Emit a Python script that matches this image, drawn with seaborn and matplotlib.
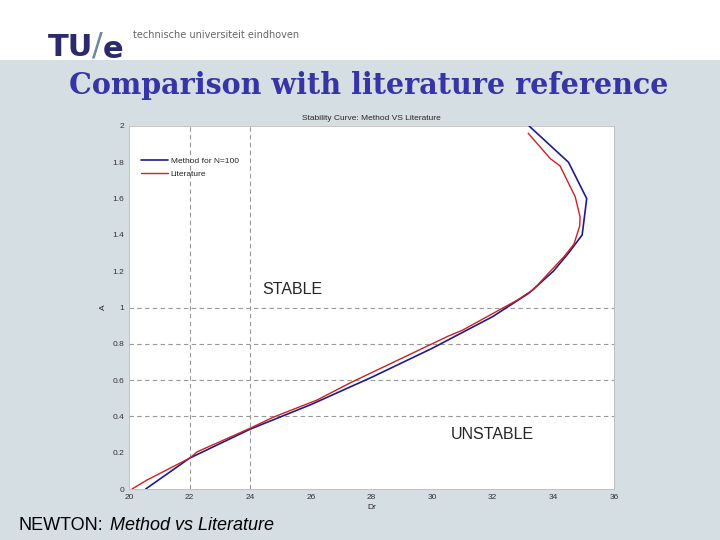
import matplotlib
matplotlib.use('Agg')
import matplotlib.pyplot as plt
import seaborn as sns
import pandas as pd
import numpy as np

# valeurs (Dr, A)
method_dr = [20.55, 22.0, 24.0, 26.0, 28.0, 30.0, 32.0, 33.2, 34.0, 34.5, 34.95, 35.1, 34.5, 33.2]
method_a = [0.0, 0.17, 0.33, 0.465, 0.615, 0.775, 0.95, 1.08, 1.2, 1.3, 1.4, 1.6, 1.8, 2.0]

lit_dr = [20.1, 20.6, 22.0, 22.25, 24.0, 24.75, 26.2, 27.3, 30.5, 31.0, 32.8, 33.35, 33.9,
          34.35, 34.68, 34.87, 34.88, 34.72, 34.22, 33.9, 33.17]
lit_a = [0.0, 0.05, 0.17, 0.205, 0.335, 0.395, 0.49, 0.585, 0.84, 0.875, 1.04, 1.10, 1.2,
         1.28, 1.35, 1.45, 1.5, 1.61, 1.78, 1.82, 1.96]

x_ticks = [20, 22, 24, 26, 28, 30, 32, 34, 36]
y_ticks = [0, 0.2, 0.4, 0.6, 0.8, 1, 1.2, 1.4, 1.6, 1.8, 2]
x_grid = [22, 24]
y_grid = [0.4, 0.6, 0.8, 1.0]

sns.set_style('white')
plt.rcParams['font.family'] = ['Liberation Sans', 'DejaVu Sans']

bg = '#d5dee3'
fig = plt.figure(figsize=(7.2, 5.4), dpi=100, facecolor=bg)

# bandeau blanc du haut
fig.patches.append(plt.Rectangle((0, 540 - 60), 720, 60, transform=None,
                                 facecolor='white', edgecolor='none', zorder=0))

# logo TU/e
fig.text(48 / 720, 1 - 47 / 540, 'TU', fontsize=22, fontweight='bold', color='#2b2a6b',
         family='DejaVu Sans', va='center', ha='left')
fig.text(92 / 720, 1 - 46 / 540, '/', fontsize=23, color='#6e8a9a',
         family='DejaVu Sans', va='center', ha='left')
fig.text(103 / 720, 1 - 50 / 540, 'e', fontsize=22, fontweight='bold', color='#2b2a6b',
         family='DejaVu Sans', va='center', ha='left')
fig.text(133 / 720, 1 - 35 / 540, 'technische universiteit eindhoven', fontsize=7,
         color='#666666', family='DejaVu Sans', va='center', ha='left')

fig.text(369 / 720, 1 - 86 / 540, 'Comparison with literature reference', fontsize=20.6,
         fontweight='bold', color='#3535a8', family='DejaVu Serif',
         va='center', ha='center')

fig.text(18 / 720, 1 - 525 / 540, 'NEWTON:', fontsize=13, color='black', va='center', ha='left')
fig.text(110 / 720, 1 - 525 / 540, 'Method vs Literature', fontsize=13, style='italic',
         color='black', va='center', ha='left')

ax = fig.add_axes([129 / 720, 51 / 540, 485 / 720, 363 / 540])
ax.set_facecolor('white')

for gx in x_grid:
    ax.axvline(gx, color='#999999', lw=0.8, ls=(0, (4, 3)), zorder=1)
for gy in y_grid:
    ax.axhline(gy, color='#999999', lw=0.8, ls=(0, (4, 3)), zorder=1)

df_m = pd.DataFrame({'Dr': method_dr, 'A': method_a})
df_l = pd.DataFrame({'Dr': lit_dr, 'A': lit_a})
sns.lineplot(data=df_m, x='Dr', y='A', sort=False, estimator=None, ax=ax,
             color='#1c1c90', lw=1.2, label='Method for N=100', zorder=3)
sns.lineplot(data=df_l, x='Dr', y='A', sort=False, estimator=None, ax=ax,
             color='#d02020', lw=1.0, label='Literature', zorder=4)

ax.set_xlim(20, 36)
ax.set_ylim(0, 2)
ax.set_xticks(x_ticks)
ax.set_yticks(y_ticks)
ax.set_yticklabels([f'{v:g}' for v in y_ticks])
ax.tick_params(direction='in', length=4, labelsize=6, color='#777777', labelcolor='#333333')
for s in ax.spines.values():
    s.set_color('#bbbbbb')
    s.set_linewidth(0.6)

ax.set_xlabel('Dr', fontsize=6, labelpad=2)
ax.set_ylabel('A', fontsize=6, labelpad=4)
ax.set_title('Stability Curve: Method VS Literature', fontsize=6, pad=4)

ax.text(24.39, 1.10, 'STABLE', fontsize=11.5, va='center', ha='left')
ax.text(30.6, 0.30, 'UNSTABLE', fontsize=11.5, va='center', ha='left')

leg = ax.legend(loc='upper left', bbox_to_anchor=(0.01, 0.935), frameon=False,
                fontsize=6, handlelength=3.2, handletextpad=0.3, labelspacing=0.6)

fig.savefig('out.png', dpi=100, facecolor=fig.get_facecolor())
